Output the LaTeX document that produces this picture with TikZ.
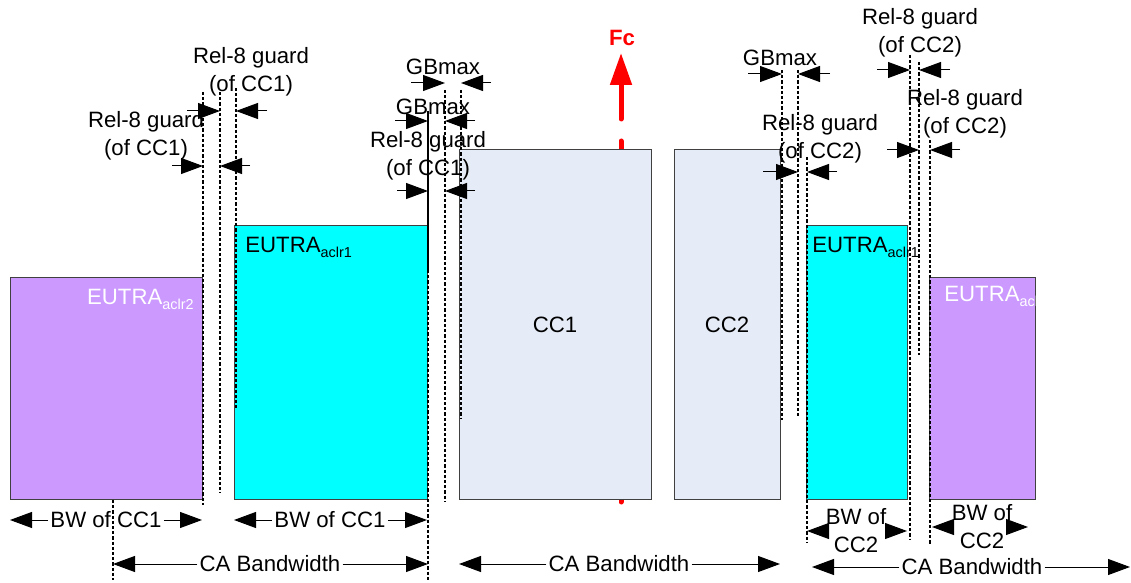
\documentclass[tikz,border=0pt]{standalone}
\usepackage{fontspec}
\setmainfont{Liberation Sans}
\usetikzlibrary{arrows.meta}
\definecolor{aclrtwo}{HTML}{CC99FF}
\definecolor{aclrone}{HTML}{00FFFF}
\definecolor{ccfill}{HTML}{E6ECF7}
\newcommand{\eutrasub}[1]{EUTRA\raisebox{-0.45ex}{\fontsize{7.2}{8}\selectfont #1}}
\tikzset{
  band/.style={draw=black!75,line width=0.5pt},
  guardline/.style={line width=0.7pt,dash pattern=on 1.6pt off 1pt},
  dimarrow/.style={line width=0.5pt,-{Triangle[length=11pt,width=8pt]}},
  lbl/.style={align=center,inner sep=1pt},
  eutra/.style={inner sep=0pt}
}

\begin{document}
\begin{tikzpicture}[x=0.5pt,y=-0.5pt,font=\fontsize{11.1}{14}\selectfont]
\useasboundingbox (0,0) rectangle (1131,583);
% centre frequency, behind the blocks
\draw[red,line width=2.5pt,line cap=round] (621,141) -- (621,502);
\draw[red,line width=2.5pt,line cap=round,-{Triangle[length=16pt,width=10.5pt]}] (621,119) -- (621,53);
\node[red,font=\fontsize{11.1}{14}\selectfont\bfseries] (fc) at (622,38) {Fc};

% blocks
\draw[band,fill=aclrtwo] (10,277) rectangle (202,499);
\draw[band,fill=aclrone] (234,226) rectangle (427,499);
\draw[band,fill=ccfill] (459,150) rectangle (651,499);
\draw[band,fill=ccfill] (674,150) rectangle (780,499);
\draw[band,fill=aclrone] (806,226) rectangle (907,499);
\draw[band,fill=aclrtwo] (929,277) rectangle (1035,499);

\node[eutra,white,anchor=base east] (aclrtwoL) at (194,304) {\eutrasub{aclr2}};
\node[eutra,anchor=base west] (aclroneL) at (245,252) {\eutrasub{aclr1}};
\node (ccone) at (555,325) {CC1};
\node (cctwo) at (727,325) {CC2};
\node[eutra,anchor=base west] (aclroneR) at (812,252) {\eutrasub{aclr1}};
\begin{scope}
\clip (929,277) rectangle (1035,499);
\node[eutra,white,anchor=base west] (aclrtwoR) at (944,301) {\eutrasub{aclr2}};
\end{scope}

% guard edges
\foreach \x/\a/\b in {203/92/505,220/92/493,236/88/410,428/270/580,445/90/502,
    461/90/418,782/70/420,798/70/418,807/157/543,910/55/540,919/62/355,
    930/140/545,113/500/580}
  \draw[guardline] (\x,\a) -- (\x,\b);
\draw[line width=0.7pt] (428,111) -- (428,270);

% guard markers
\foreach \l/\r/\y/\lo/\ro in {220/236/111/187/267,203/220/166/172/250,
    445/461/83/411/491,428/445/121/395/475,428/445/191/397/475,
    782/798/74/748/830,798/807/172/763/837,910/919/70/877/950,
    919/930/150/887/960}{
  \draw[dimarrow] (\lo,\y) -- (\l,\y);
  \draw[dimarrow] (\ro,\y) -- (\r,\y);
}

\node[lbl] (guardA) at (251,72) {Rel-8 guard\\(of CC1)};
\node[lbl] (guardB) at (146,136) {Rel-8 guard\\(of CC1)};
\node[lbl] (gbA) at (443,67) {GBmax};
\node[lbl] (gbB) at (433,107) {GBmax};
\node[lbl] (guardC) at (428,156) {Rel-8 guard\\(of CC1)};
\node[lbl] (gbC) at (780,58) {GBmax};
\node[lbl] (guardD) at (820,139) {Rel-8 guard\\(of CC2)};
\node[lbl] (guardE) at (920,33) {Rel-8 guard\\(of CC2)};
\node[lbl] (guardF) at (965,114) {Rel-8 guard\\(of CC2)};

% bandwidths
\node[lbl] (bwA) at (106,520) {BW of CC1};
\draw[dimarrow] (bwA) -- (10,520);
\draw[dimarrow] (bwA) -- (202,520);
\node[lbl] (bwB) at (330,520) {BW of CC1};
\draw[dimarrow] (bwB) -- (234,520);
\draw[dimarrow] (bwB) -- (427,520);
\node[lbl] (bwC) at (856,531) {BW of\\CC2};
\draw[dimarrow] (bwC) -- (807,531);
\draw[dimarrow] (bwC) -- (907,531);
\node[lbl] (bwD) at (982,527) {BW of\\CC2};
\draw[dimarrow] (bwD) -- (932,527);
\draw[dimarrow] (bwD) -- (1028,527);

\node[lbl] (caA) at (270,564) {CA Bandwidth};
\draw[dimarrow] (caA) -- (113,564);
\draw[dimarrow] (caA) -- (428,564);
\node[lbl] (caB) at (619,564) {CA Bandwidth};
\draw[dimarrow] (caB) -- (459,564);
\draw[dimarrow] (caB) -- (780,564);
\node[lbl] (caC) at (972,567) {CA Bandwidth};
\draw[dimarrow] (caC) -- (812,567);
\draw[dimarrow] (caC) -- (1130,567);
\end{tikzpicture}
\end{document}
